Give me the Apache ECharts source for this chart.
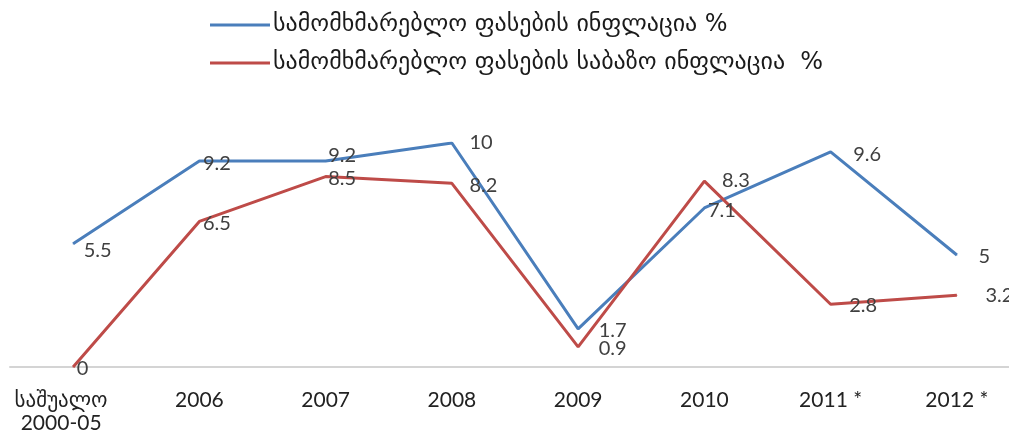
<!DOCTYPE html>
<html>
<head>
<meta charset="utf-8">
<script src="https://cdn.jsdelivr.net/npm/echarts@6/dist/echarts.min.js"></script>
<style>
html,body{margin:0;padding:0;background:#fff;}
#c{width:1009px;height:431px;}
</style>
</head>
<body>
<div id="c"></div>
<script>
const categories = ['საშუალო\n2000-05', '2006', '2007', '2008', '2009', '2010', '2011 *', '2012 *'];
const seriesNames = ['სამომხმარებლო ფასების ინფლაცია %', 'სამომხმარებლო ფასების საბაზო ინფლაცია  %'];
const cpiInflation = [5.5, 9.2, 9.2, 10, 1.7, 7.1, 9.6, 5];
const coreInflation = [0, 6.5, 8.5, 8.2, 0.9, 8.3, 2.8, 3.2];

const FONT = 'Lato, "DejaVu Sans", sans-serif';
const GEO = '"DejaVu Sans", sans-serif';
// label placement tweaks (style only)
const blueLabelDist = [10, 3, 2, 17, 20, 3, 22, 21];
const blueLabelOff = [[0, 7], [0, 3], [0, -5], [0, 0], [0, 2], [0, 3], [0, 3], [0, 2]];
const redLabelDist = [3, 3, 2, 17, 20, 17, 18, 28];
const redLabelOff = [[0, 2], [0, 2], [0, 2], [0, 2], [0, 2], [0, -1], [0, 1], [0, 0]];

function build(values, dists, offs) {
  return values.map((v, i) => ({
    value: v,
    label: { distance: dists[i], offset: offs[i] }
  }));
}

const chart = echarts.init(document.getElementById('c'), null, { renderer: 'canvas' });
chart.setOption({
  backgroundColor: '#ffffff',
  animation: false,
  textStyle: { fontFamily: FONT },
  legend: {
    orient: 'vertical',
    left: 205,
    top: 8,
    itemWidth: 60,
    itemHeight: 3,
    itemGap: 14,
    icon: 'rect',
    textStyle: { fontSize: 24, lineHeight: 24, color: '#1a1a1a', fontFamily: GEO, padding: [0, 0, 0, -2] },
    data: seriesNames
  },
  grid: { left: 10, right: -11, top: 143, bottom: 64, outerBoundsMode: 'none', containLabel: false },
  xAxis: {
    type: 'category',
    data: categories,
    boundaryGap: true,
    axisLine: { show: true, lineStyle: { color: '#d4d4d4', width: 2 } },
    axisTick: { show: false },
    axisLabel: {
      fontSize: 21, color: '#222', fontFamily: FONT, margin: 22, lineHeight: 23, interval: 0,
      formatter: function (val, idx) {
        if (idx === 0) {
          return val.split('\n').map(function (s) { return '{first|' + s + '}'; }).join('\n');
        }
        return val;
      },
      rich: {
        first: { fontSize: 21, color: '#222', fontFamily: FONT, lineHeight: 23, padding: [0, 24, 0, 0] }
      }
    },
    splitLine: { show: false }
  },
  yAxis: {
    type: 'value',
    min: 0,
    max: 10,
    show: false
  },
  series: [
    {
      name: seriesNames[0],
      type: 'line',
      data: build(cpiInflation, blueLabelDist, blueLabelOff),
      symbol: 'circle',
      symbolSize: 1,
      showSymbol: true,
      lineStyle: { color: '#4a7ebb', width: 3 },
      itemStyle: { color: '#4a7ebb' },
      label: { show: true, position: 'right', fontSize: 20, color: '#404040', fontFamily: FONT }
    },
    {
      name: seriesNames[1],
      type: 'line',
      data: build(coreInflation, redLabelDist, redLabelOff),
      symbol: 'circle',
      symbolSize: 1,
      showSymbol: true,
      lineStyle: { color: '#be4b48', width: 3 },
      itemStyle: { color: '#be4b48' },
      label: { show: true, position: 'right', fontSize: 20, color: '#404040', fontFamily: FONT }
    }
  ]
});
</script>
</body>
</html>
